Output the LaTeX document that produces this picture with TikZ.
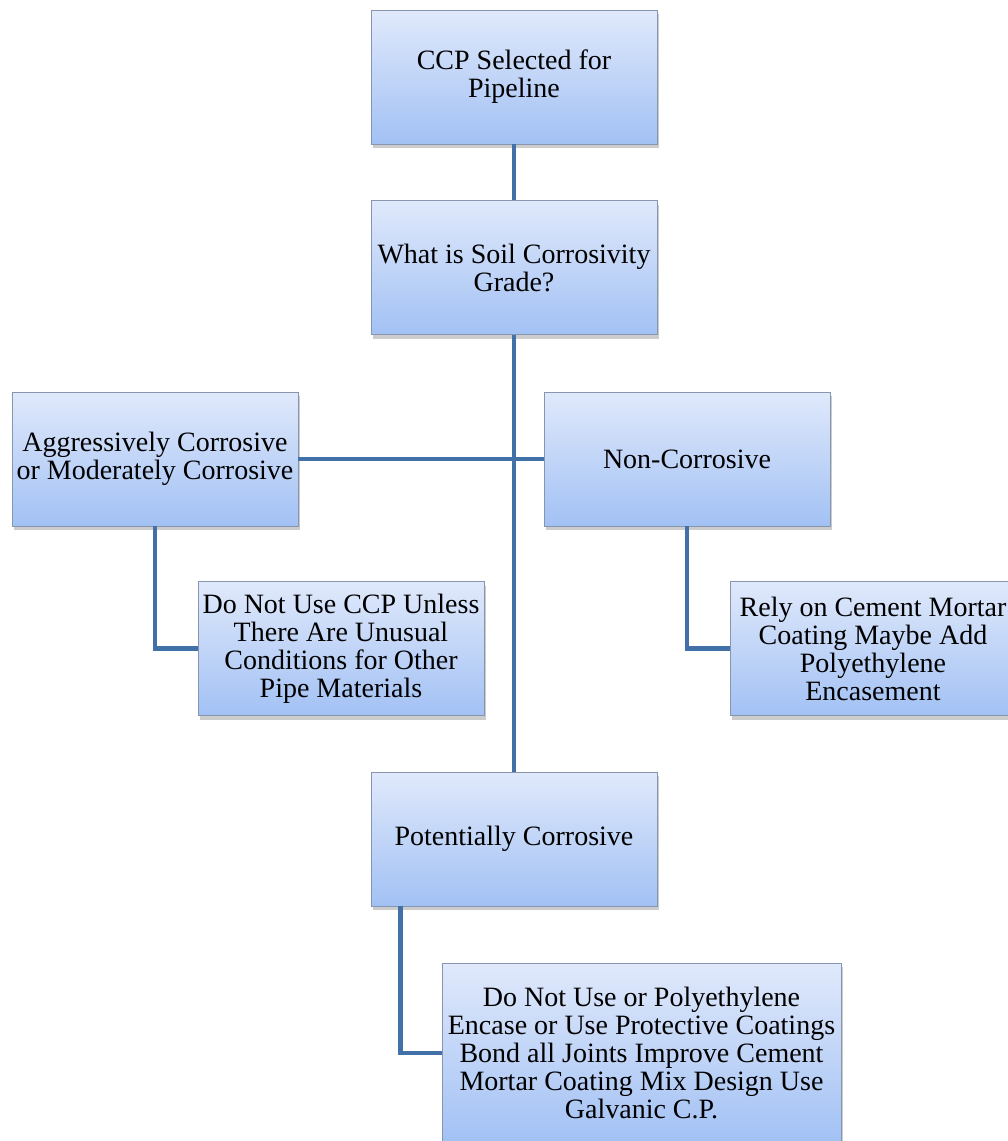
\documentclass[tikz,border=0pt]{standalone}
\usepackage{fontspec}
\newfontfamily\boxfont{Liberation Serif}
\usetikzlibrary{shadows}

\definecolor{linkblue}{RGB}{65,113,167}
\definecolor{boxtop}{RGB}{224,233,251}
\definecolor{boxbottom}{RGB}{162,193,244}
\definecolor{boxedge}{RGB}{135,150,175}

\tikzset{
  gradebox/.style={draw=boxedge, line width=0.8pt, top color=boxtop, bottom color=boxbottom,
    minimum width=286pt, minimum height=134pt, inner sep=2pt, align=center,
    font=\boxfont\fontsize{28}{28}\selectfont,
    drop shadow={opacity=0.4, shadow xshift=2pt, shadow yshift=-4pt}},
  link/.style={draw=linkblue, line width=4.5pt}
}

\begin{document}
\begin{tikzpicture}[x=1pt,y=1pt,yscale=-1]
\useasboundingbox (0,0) rectangle (1008,1141);

%Boxes
\node [gradebox] (ccp) at (514,77) {CCP Selected for\\Pipeline};
\node [gradebox] (soil) at (514,267.5) {What is Soil Corrosivity\\Grade?};
\node [gradebox] (aggr) at (155,459) {Aggressively Corrosive\\or Moderately Corrosive};
\node [gradebox] (noncorr) at (687,459) {Non-Corrosive};
\node [gradebox] (nouse) at (341,648.5) {Do Not Use CCP Unless\\There Are Unusual\\Conditions for Other\\Pipe Materials};
\node [gradebox] (rely) at (873,648.5) {Rely on Cement Mortar\\Coating Maybe Add\\Polyethylene\\Encasement};
\node [gradebox] (potential) at (514,839) {Potentially Corrosive};
\node [gradebox, minimum width=399pt, minimum height=180pt] (protect) at (641.5,1053)
  {Do Not Use or Polyethylene\\Encase or Use Protective Coatings\\Bond all Joints Improve Cement\\Mortar Coating Mix Design Use\\Galvanic C.P.};

%Connectors
\draw [link] (ccp) -- (soil);
\draw [link] (soil) -- (potential);
\draw [link] (aggr) -- (noncorr);
\draw [link] (aggr.south) |- (nouse.west);
\draw [link] (noncorr.south) |- (rely.west);
\draw [link] ([xshift=30pt]potential.south west) |- (protect.west);
\end{tikzpicture}
\end{document}
